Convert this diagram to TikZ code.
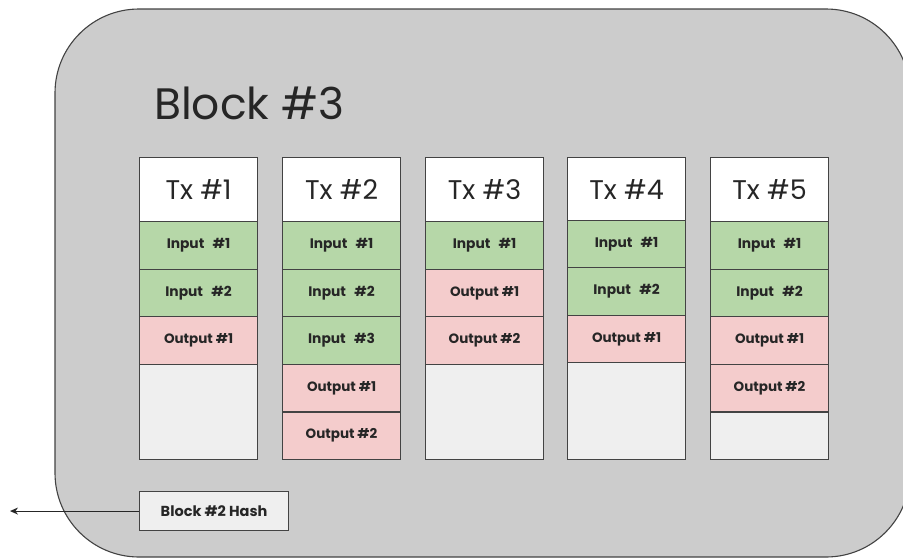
\documentclass[tikz,border=0pt]{standalone}
\usepackage{fontspec}
\setmainfont{Poppins}
\usetikzlibrary{arrows.meta}
\definecolor{blockgray}{HTML}{CCCCCC}
\definecolor{edgegray}{HTML}{434343}
\definecolor{ingreen}{HTML}{B6D7A8}
\definecolor{outpink}{HTML}{F4CCCC}
\definecolor{emptygray}{HTML}{EFEFEF}
\newcommand{\inlab}[1]{Input\hspace{0.6em}\##1}
\tikzset{
  cellbox/.style={draw=edgegray, line width=1.1pt, minimum width=118pt, anchor=north west, inner sep=0pt, text=black!85},
  header/.style={cellbox, fill=white, minimum height=64pt, font=\fontsize{27}{30}\selectfont},
  inbox/.style={cellbox, fill=ingreen, minimum height=47.6pt, font=\bfseries\fontsize{13.8}{15}\selectfont},
  outbox/.style={cellbox, fill=outpink, minimum height=47.6pt, font=\bfseries\fontsize{13.5}{15}\selectfont},
  emptybox/.style={cellbox, fill=emptygray, minimum height=#1},
}
\begin{document}
\begin{tikzpicture}[x=1pt,y=-1pt]
\clip (0,0) rectangle (903,558);
\fill[white] (0,0) rectangle (903,558);
\draw[draw=edgegray, line width=1.1pt, fill=blockgray, rounded corners=84pt] (55,9) rectangle (910,557);
\node[anchor=base west, font=\fontsize{44}{48}\selectfont, text=black!85, inner sep=0pt] (title) at (154,119) {Block \#3};
% Tx 1
\node[header] (t1) at (139,157) {Tx \#1};
\node[inbox] (t1a) at (139,221) {\inlab{1}};
\node[inbox] (t1b) at (139,268.6) {\inlab{2}};
\node[outbox] (t1c) at (139,316.2) {Output \#1};
\node[emptybox=95.2pt] (t1d) at (139,363.8) {};
% Tx 2
\node[header] (t2) at (282,157) {Tx \#2};
\node[inbox] (t2a) at (282,221) {\inlab{1}};
\node[inbox] (t2b) at (282,268.6) {\inlab{2}};
\node[inbox] (t2c) at (282,316.2) {\inlab{3}};
\node[outbox] (t2d) at (282,363.8) {Output \#1};
\node[outbox] (t2e) at (282,411.4) {Output \#2};
% Tx 3
\node[header] (t3) at (425,157) {Tx \#3};
\node[inbox] (t3a) at (425,221) {\inlab{1}};
\node[outbox] (t3b) at (425,268.6) {Output \#1};
\node[outbox] (t3c) at (425,316.2) {Output \#2};
\node[emptybox=95.2pt] (t3d) at (425,363.8) {};
% Tx 4
\node[header] (t4) at (567,157) {Tx \#4};
\node[inbox] (t4a) at (567,220) {\inlab{1}};
\node[inbox] (t4b) at (567,267.3) {\inlab{2}};
\node[outbox] (t4c) at (567,314.6) {Output \#1};
\node[emptybox=97.1pt] (t4d) at (567,361.9) {};
% Tx 5
\node[header] (t5) at (710,157) {Tx \#5};
\node[inbox] (t5a) at (710,221) {\inlab{1}};
\node[inbox] (t5b) at (710,268.6) {\inlab{2}};
\node[outbox] (t5c) at (710,316.2) {Output \#1};
\node[outbox] (t5d) at (710,363.8) {Output \#2};
\node[emptybox=47.6pt] (t5e) at (710,411.4) {};
% Hash
\node[cellbox, fill=emptygray, minimum width=149pt, minimum height=39pt, font=\bfseries\fontsize{14.5}{16}\selectfont] (hash) at (139,491) {Block \#2 Hash};
\coordinate (prev) at (10,510.5);
\draw[draw=black!85, line width=1pt, -{Stealth[length=8pt,width=7pt]}] (hash.west) -- (prev |- hash.west);
\end{tikzpicture}
\end{document}
